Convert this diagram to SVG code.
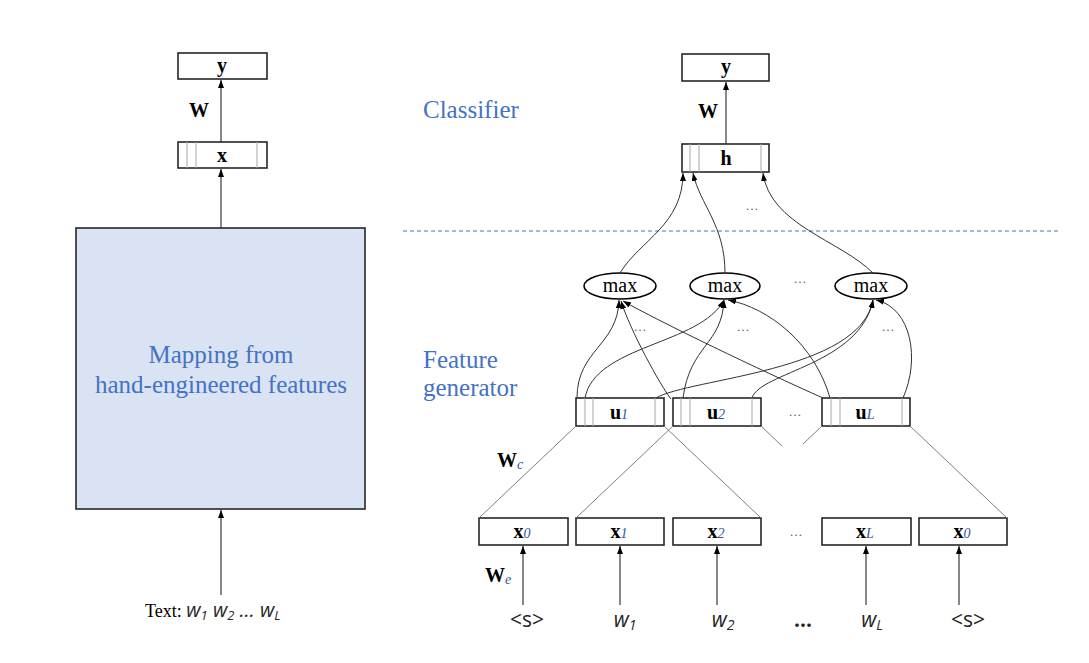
<svg xmlns="http://www.w3.org/2000/svg" width="1089" height="663" viewBox="0 0 1089 663">
<style>
.box{fill:#fff;stroke:#262626;stroke-width:1.6}
.big{fill:#dae3f3;stroke:#262626;stroke-width:1.6}
.ell{fill:#fff;stroke:#000;stroke-width:1.6}
.inner{stroke:#a6a6a6;stroke-width:1}
.lbl{font-family:"Liberation Serif",serif;font-weight:bold;font-size:20px;text-anchor:middle;fill:#000}
.sub{font-style:italic;font-weight:normal;fill:#2f5597;font-size:14px}
.blue{font-family:"Liberation Serif",serif;font-size:25px;fill:#4472c4}
.mx{font-family:"Liberation Serif",serif;font-size:20px;text-anchor:middle;fill:#000}
.dots{font-family:"Liberation Serif",serif;font-size:13px;text-anchor:middle;fill:#595959}
.arr{fill:none;stroke:#262626;stroke-width:1.1;marker-end:url(#ah)}
.crv{fill:none;stroke:#333;stroke-width:1;marker-end:url(#ah)}
.gl{fill:none;stroke:#7f7f7f;stroke-width:1}
.word{font-family:"Open Sans","Noto Sans",sans-serif;font-size:21px;text-anchor:middle;fill:#262626}
.it{font-style:italic}
</style>
<defs>
<marker id="ah" markerWidth="8" markerHeight="6" refX="8" refY="3" orient="auto" markerUnits="userSpaceOnUse">
<path d="M0,0 L8,3 L0,6 z" fill="#000"/>
</marker>
</defs>
<rect width="1089" height="663" fill="#fff"/>

<!-- Left part -->
<g id="left-y"><rect class="box" x="178" y="53" width="89" height="26"/><text class="lbl" x="222" y="72">y</text></g>
<text class="lbl" x="199" y="117">W</text>
<g id="left-x"><rect class="box" x="178" y="142" width="89" height="26"/>
<line class="inner" x1="187" y1="142" x2="187" y2="168"/><line class="inner" x1="196" y1="142" x2="196" y2="168"/><line class="inner" x1="257" y1="142" x2="257" y2="168"/>
<text class="lbl" x="222" y="162">x</text></g>
<g id="mapping"><rect class="big" x="76" y="228" width="289" height="281"/>
<text class="blue" x="221" y="363" text-anchor="middle">Mapping from</text>
<text class="blue" x="221" y="393" text-anchor="middle">hand-engineered features</text></g>
<g id="text-input"><text x="145" y="617" font-family="Liberation Serif,serif" font-size="18" fill="#000">Text: <tspan font-family="Open Sans,Noto Sans,sans-serif" font-style="italic" font-size="20" fill="#262626">w<tspan font-size="13" dy="3">1</tspan> <tspan dy="-3">w</tspan><tspan font-size="13" dy="3">2</tspan><tspan dy="-3"> … w</tspan><tspan font-size="13" dy="3">L</tspan></tspan></text></g>

<!-- Section labels -->
<text class="blue" x="423" y="118">Classifier</text>
<text class="blue" x="423" y="368">Feature</text>
<text class="blue" x="423" y="396">generator</text>
<line x1="403" y1="231" x2="1058" y2="231" stroke="#4472c4" stroke-width="1" stroke-dasharray="4 3"/>

<!-- Right classifier -->
<g id="right-y"><rect class="box" x="682" y="54" width="87" height="27"/><text class="lbl" x="726" y="73">y</text></g>
<text class="lbl" x="708" y="118">W</text>
<g id="h"><rect class="box" x="682" y="144" width="87" height="28"/>
<line class="inner" x1="690" y1="144" x2="690" y2="172"/><line class="inner" x1="699" y1="144" x2="699" y2="172"/><line class="inner" x1="761" y1="144" x2="761" y2="172"/>
<text class="lbl" x="726" y="165">h</text></g>

<!-- max nodes -->
<g id="max1"><ellipse class="ell" cx="620" cy="286" rx="36" ry="13"/><text class="mx" x="620" y="292">max</text></g>
<g id="max2"><ellipse class="ell" cx="725" cy="286" rx="35" ry="13"/><text class="mx" x="725" y="292">max</text></g>
<g id="maxL"><ellipse class="ell" cx="871" cy="286" rx="36" ry="13"/><text class="mx" x="871" y="292">max</text></g>

<!-- u nodes -->
<g id="u1"><rect class="box" x="576" y="398" width="88" height="28"/>
<line class="inner" x1="585" y1="398" x2="585" y2="426"/><line class="inner" x1="593" y1="398" x2="593" y2="426"/><line class="inner" x1="655" y1="398" x2="655" y2="426"/>
<text class="lbl" x="619" y="419">u<tspan class="sub">1</tspan></text></g>
<g id="u2"><rect class="box" x="673" y="398" width="88" height="28"/>
<line class="inner" x1="681" y1="398" x2="681" y2="426"/><line class="inner" x1="690" y1="398" x2="690" y2="426"/><line class="inner" x1="752" y1="398" x2="752" y2="426"/>
<text class="lbl" x="716" y="419">u<tspan class="sub">2</tspan></text></g>
<g id="uL"><rect class="box" x="822" y="398" width="88" height="28"/>
<line class="inner" x1="831" y1="398" x2="831" y2="426"/><line class="inner" x1="840" y1="398" x2="840" y2="426"/><line class="inner" x1="902" y1="398" x2="902" y2="426"/>
<text class="lbl" x="865" y="419">u<tspan class="sub">L</tspan></text></g>

<!-- x nodes -->
<g id="x0"><rect class="box" x="479" y="518" width="89" height="27"/><text class="lbl" x="522" y="538">x<tspan class="sub">0</tspan></text></g>
<g id="x1"><rect class="box" x="576" y="518" width="88" height="27"/><text class="lbl" x="619" y="538">x<tspan class="sub">1</tspan></text></g>
<g id="x2"><rect class="box" x="673" y="518" width="88" height="27"/><text class="lbl" x="716" y="538">x<tspan class="sub">2</tspan></text></g>
<g id="xL"><rect class="box" x="822" y="518" width="89" height="27"/><text class="lbl" x="865" y="538">x<tspan class="sub">L</tspan></text></g>
<g id="x0end"><rect class="box" x="919" y="518" width="88" height="27"/><text class="lbl" x="962" y="538">x<tspan class="sub" font-style="normal">0</tspan></text></g>

<!-- weight labels -->
<text class="lbl" x="510" y="467">W<tspan class="sub" fill="#000" font-size="12" dy="2">c</tspan></text>
<text class="lbl" x="498" y="582">W<tspan class="sub" fill="#000" font-size="12" dy="2">e</tspan></text>

<!-- word labels -->
<g id="words">
<text class="word" x="527" y="627">&lt;s&gt;</text>
<text class="word it" x="625" y="627">w<tspan font-size="14" dy="3">1</tspan></text>
<text class="word it" x="723" y="627">w<tspan font-size="14" dy="3">2</tspan></text>
<text class="word" x="803" y="627" font-weight="bold">...</text>
<text class="word it" x="872" y="627">w<tspan font-size="14" dy="3">L</tspan></text>
<text class="word" x="968" y="627">&lt;s&gt;</text>
</g>

<!-- dots -->
<g id="ellipses-dots">
<text class="dots" x="752" y="210">…</text>
<text class="dots" x="800" y="283">…</text>
<text class="dots" x="640" y="331">…</text>
<text class="dots" x="743" y="331">…</text>
<text class="dots" x="888" y="331">…</text>
<text class="dots" x="795" y="416">…</text>
<text class="dots" x="796" y="536">…</text>
</g>

<!-- connectors -->
<g id="connectors">
<line class="arr" x1="221" y1="142" x2="221" y2="80"/>
<line class="arr" x1="221" y1="228" x2="221" y2="169"/>
<line class="arr" x1="221" y1="595" x2="221" y2="510"/>
<line class="arr" x1="726" y1="144" x2="726" y2="82"/>

<path class="crv" d="M620,273 C640,240 683,225 683,173"/>
<path class="crv" d="M725,273 C725,225 700,205 693,173"/>
<path class="crv" d="M873,273 C840,240 770,225 763,173"/>

<path class="crv" d="M577,398 C577,350 618,345 619,300"/>
<path class="crv" d="M671,399 C660,385 630,330 621,301"/>
<path class="crv" d="M823,398 C760,370 660,322 623,301"/>

<path class="crv" d="M585,398 C595,345 700,345 724,300"/>
<path class="crv" d="M683,398 C690,345 722,345 724,300"/>
<path class="crv" d="M830,398 C815,345 770,308 728,300"/>

<path class="crv" d="M656,398 C690,378 860,372 873,300"/>
<path class="crv" d="M752,398 C760,372 860,365 873,300"/>
<path class="crv" d="M903,398 C920,360 912,308 876,300"/>

<line class="gl" x1="576" y1="426" x2="479" y2="518"/>
<line class="gl" x1="664" y1="426" x2="761" y2="518"/>
<line class="gl" x1="673" y1="426" x2="576" y2="518"/>
<line class="gl" x1="761" y1="426" x2="782" y2="446"/>
<line class="gl" x1="822" y1="426" x2="803" y2="444"/>
<line class="gl" x1="910" y1="426" x2="1007" y2="518"/>

<line class="arr" x1="523" y1="605" x2="523" y2="546"/>
<line class="arr" x1="620" y1="605" x2="620" y2="546"/>
<line class="arr" x1="717" y1="605" x2="717" y2="546"/>
<line class="arr" x1="866" y1="605" x2="866" y2="546"/>
<line class="arr" x1="959" y1="605" x2="959" y2="546"/>
</g>
</svg>
